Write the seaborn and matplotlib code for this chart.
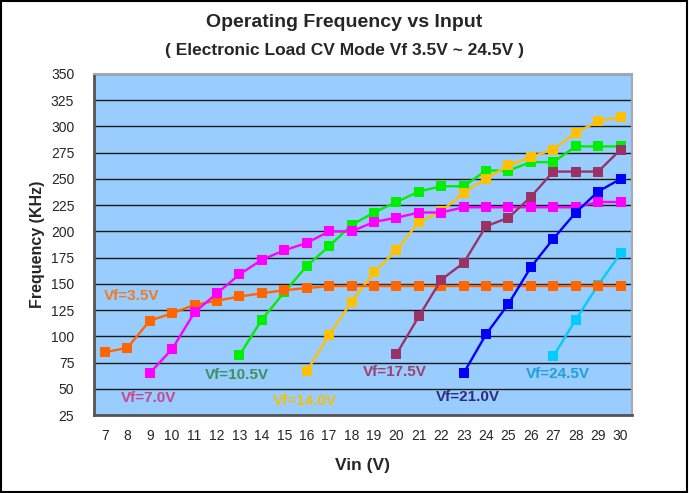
import matplotlib
matplotlib.use("Agg")
import matplotlib.pyplot as plt
import seaborn as sns
import pandas as pd
from matplotlib.patches import Rectangle

sns.set_theme(style="white")
plt.rcParams['font.family'] = ['Liberation Sans', 'DejaVu Sans']

vin = list(range(7, 31))

vf_3_5 = [85, 89, 115, 122, 130, 134, 138, 141, 144, 146, 148, 148, 148, 148,
          148, 148, 148, 148, 148, 148, 148, 148, 148, 148]
vf_7_0_x = list(range(9, 31))
vf_7_0 = [65, 88, 123, 141, 159, 173, 182, 189, 200, 200, 209, 213, 218, 218,
          223, 223, 223, 223, 223, 223, 228, 228]
vf_10_5_x = list(range(13, 31))
vf_10_5 = [82, 116, 142, 167, 186, 206, 218, 228, 238, 243, 243, 258, 258,
           266, 266, 281, 281, 281]
vf_14_0_x = list(range(16, 31))
vf_14_0 = [67, 101, 133, 161, 182, 209, 219, 237, 250, 263, 271, 278, 294, 305, 309]
vf_17_5_x = list(range(20, 31))
vf_17_5 = [83, 119, 154, 170, 205, 213, 233, 257, 257, 257, 278]
vf_21_0_x = list(range(23, 31))
vf_21_0 = [65, 102, 131, 166, 193, 218, 238, 250]
vf_24_5_x = list(range(27, 31))
vf_24_5 = [81, 116, 149, 179]

series_names = ["Vf=3.5V", "Vf=7.0V", "Vf=10.5V", "Vf=14.0V",
                "Vf=17.5V", "Vf=21.0V", "Vf=24.5V"]
series_x = [vin, vf_7_0_x, vf_10_5_x, vf_14_0_x, vf_17_5_x, vf_21_0_x, vf_24_5_x]
series_y = [vf_3_5, vf_7_0, vf_10_5, vf_14_0, vf_17_5, vf_21_0, vf_24_5]
line_colors = ["#FF6600", "#FF00FF", "#00EE00", "#FFC000", "#993366", "#0000FF", "#00CCFF"]
label_colors = ["#EE7A22", "#C8488A", "#3E8E5E", "#F5C000", "#A0406A", "#2E2C7E", "#1FA0DC"]
label_pos = [(8.2, 138), (8.95, 41), (12.87, 63), (15.92, 38),
             (19.95, 66), (23.2, 42), (27.2, 64)]
zorders = [5, 6, 3, 4, 7, 8, 2]

fig = plt.figure(figsize=(6.89, 4.93), dpi=100)
ax = fig.add_axes([0.136, 0.158, 0.781, 0.692])
ax.set_facecolor("#99CCFF")

for name, xs, ys, c, z in zip(series_names, series_x, series_y, line_colors, zorders):
    df = pd.DataFrame({"Vin": xs, "Freq": ys})
    sns.lineplot(data=df, x="Vin", y="Freq", ax=ax, color=c, marker="s",
                 markersize=7, markeredgewidth=0, linewidth=1.7, zorder=z)

for name, (px, py), c in zip(series_names, label_pos, label_colors):
    ax.text(px, py, name, color=c, fontsize=11, fontweight="bold",
            ha="center", va="center", zorder=10)

ax.set_xlim(6.5, 30.5)
ax.set_ylim(25, 350)
ax.set_xticks(vin)
ax.set_xticklabels([str(v) for v in vin], fontsize=10)
ax.set_yticks(list(range(25, 351, 25)))
ax.set_yticklabels([str(v) for v in range(25, 351, 25)], fontsize=10)
ax.tick_params(axis="x", length=0, pad=10)
ax.tick_params(axis="y", length=0, pad=14)
ax.yaxis.grid(True, color="#1A1A1A", linewidth=1.0, zorder=0)
ax.set_axisbelow(True)

for side in ["left", "bottom"]:
    ax.spines[side].set_color("#555555")
    ax.spines[side].set_linewidth(2)
for side in ["top", "right"]:
    ax.spines[side].set_color("#A8A8A8")
    ax.spines[side].set_linewidth(1.5)

ax.set_xlabel("Vin (V)", fontsize=12.5, fontweight="bold", labelpad=11)
ax.set_ylabel("Frequency (KHz)", fontsize=11.5, fontweight="bold", labelpad=4)

fig.text(0.5, 0.955, "Operating Frequency vs Input", ha="center", va="center",
         fontsize=14, fontweight="bold")
fig.text(0.5, 0.897, "( Electronic Load CV Mode Vf 3.5V ~ 24.5V )", ha="center",
         va="center", fontsize=12.5, fontweight="bold")

fig.patches.append(Rectangle((0.002, 0.003), 0.995, 0.994, transform=fig.transFigure,
                             fill=False, edgecolor="black", linewidth=1.5))

fig.savefig("out.png", dpi=100)
